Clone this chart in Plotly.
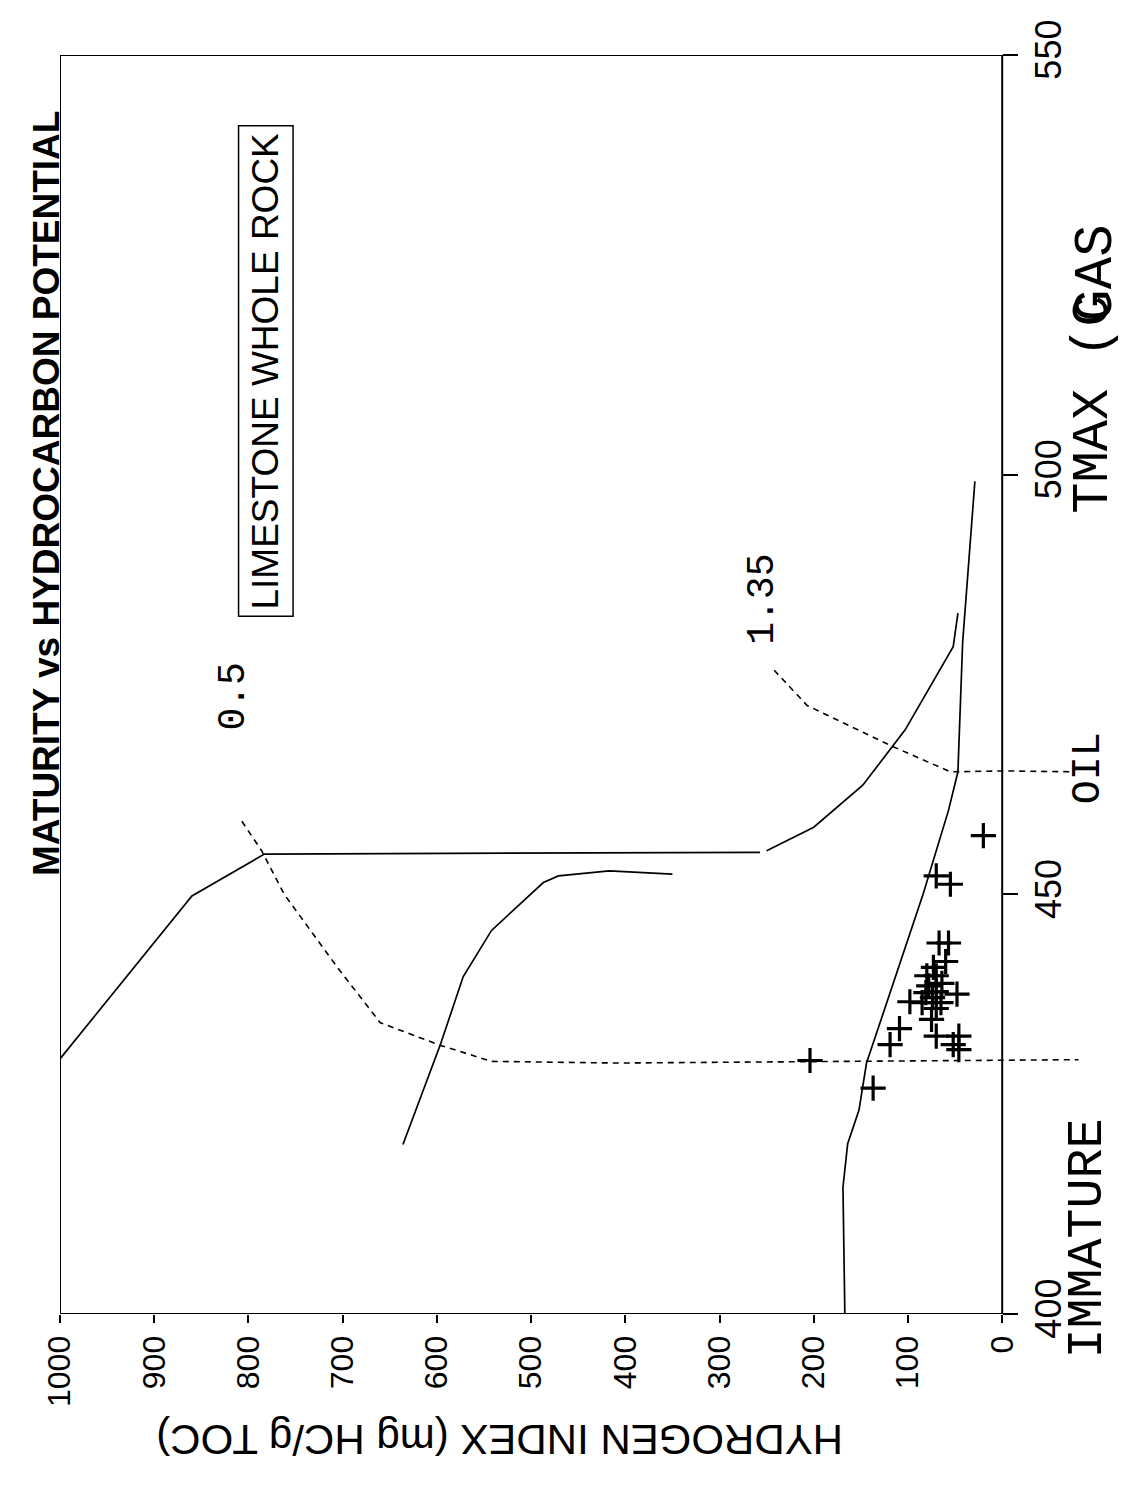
import plotly.graph_objects as go

# ---------------- data (HI in mg HC/g TOC, Tmax in deg C) ----------------
hi_ticks = [0, 100, 200, 300, 400, 500, 600, 700, 800, 900, 1000]
tmax_ticks = [400, 450, 500, 550]
hi_range = [1000, -90]
tmax_range = [400, 550]

type1_hi = [1000, 860, 783, 257]
type1_t = [430.4, 449.8, 454.8, 455.0]

type1b_hi = [250, 200, 148, 103, 52, 47]
type1b_t = [455.2, 458.0, 463.0, 469.6, 479.5, 483.5]

type2_hi = [636, 596, 572, 542, 487, 471, 417, 350]
type2_t = [420.2, 432.2, 440.2, 445.7, 451.4, 452.2, 452.8, 452.4]

type3_hi = [167, 169, 164, 152, 144, 112, 84, 57, 47, 42, 35, 29]
type3_t = [400.0, 415.1, 420.3, 424.3, 429.9, 440.7, 450.0, 460.0, 464.6, 480.0, 489.9, 499.2]

ro05_hi = [807, 786, 762, 705, 660, 596, 542, 409, -81]
ro05_t = [458.7, 455.2, 450.0, 441.2, 434.7, 432.0, 430.1, 429.9, 430.3]

ro135_hi = [242, 207, 118, 55, -3, -77]
ro135_t = [476.7, 472.5, 467.7, 464.6, 464.7, 464.6]

sample_hi = [20, 70, 55, 67, 57, 60, 73, 80, 70, 64, 78, 48, 98, 85, 74, 65,
             70, 75, 109, 119, 70, 46, 52, 46, 204, 137, 81, 70]
sample_t = [457.0, 452.2, 451.2, 444.2, 444.2, 442.0, 441.3, 440.3, 440.3, 439.4,
            439.1, 438.1, 437.2, 437.1, 437.7, 437.1, 436.4, 435.1, 434.0, 432.1,
            433.1, 433.1, 432.1, 431.5, 430.2, 426.9, 438.3, 438.4]

title_text = "MATURITY vs HYDROCARBON POTENTIAL"
box_text = "LIMESTONE WHOLE ROCK"
hi_title = "HYDROGEN INDEX (mg HC/g TOC)"

# ---------------- figure ----------------
SANS = "Liberation Sans"
MONO = "Liberation Mono"
solid = dict(color="black", width=1.7)
dashed = dict(color="black", width=1.6, dash="6px,5px")

fig = go.Figure()
for xs, ys, ln in [(type1_hi, type1_t, solid), (type1b_hi, type1b_t, solid),
                   (type2_hi, type2_t, solid), (type3_hi, type3_t, solid),
                   (ro05_hi, ro05_t, dashed), (ro135_hi, ro135_t, dashed)]:
    fig.add_trace(go.Scatter(x=xs, y=ys, mode="lines", line=ln,
                             showlegend=False, hoverinfo="skip"))

fig.add_trace(go.Scatter(x=sample_hi, y=sample_t, mode="markers",
                         marker=dict(symbol="cross-thin", size=18, color="black",
                                     line=dict(color="black", width=3.2)),
                         showlegend=False))

# frame of the HI 0..1000 / Tmax 400..550 box
fig.add_shape(type="rect", xref="x", yref="y", x0=hi_ticks[-1], x1=hi_ticks[0],
              y0=tmax_range[0], y1=tmax_range[1], line=dict(color="black", width=2),
              layer="above")

span = hi_range[0] - hi_range[1]
ypos = (hi_range[0] - hi_ticks[0]) / span


def px_of(hi):
    """paper x fraction of an HI value (lets labels sit outside the axis range)."""
    return (hi_range[0] - hi) / span


fig.update_layout(
    width=1145, height=1488,
    margin=dict(l=52, r=66, t=28, b=182),
    paper_bgcolor="white", plot_bgcolor="white",
    xaxis=dict(range=hi_range, tickvals=hi_ticks, ticktext=[str(v) for v in hi_ticks],
               tickangle=-90, ticks="outside", ticklen=8, tickwidth=1.5,
               tickcolor="black", showline=False, showgrid=False, zeroline=False,
               tickfont=dict(family=SANS, size=32, color="black")),
    yaxis=dict(range=tmax_range, tickvals=tmax_ticks, ticktext=[str(v) for v in tmax_ticks],
               side="right", anchor="free", position=ypos, ticklabeloverflow="allow",
               tickangle=-90, ticks="outside", ticklen=15, tickwidth=1.5,
               tickcolor="black", showline=False, showgrid=False, zeroline=False,
               tickfont=dict(family=SANS, size=36, color="black")),
)


def label(x, y, text, font, xref="paper", yref="y", angle=-90, **kw):
    return dict(x=x, y=y, xref=xref, yref=yref, text=text, textangle=angle,
                showarrow=False, xanchor="center", yanchor="middle", font=font, **kw)


ann = [
    label(px_of(1015), 497.8, "<b>" + title_text + "</b>",
          dict(family=SANS, size=37, color="black")),
    label(782, 512.4, box_text, dict(family=SANS, size=37, color="black"), xref="x",
          bordercolor="black", borderwidth=1.5, borderpad=6),
    label(816, 473.6, "0.5", dict(family=MONO, size=38, color="black"), xref="x"),
    label(254, 485.2, "1.35", dict(family=MONO, size=38, color="black"), xref="x"),
    label(px_of(-91), 465.0, "OIL", dict(family=MONO, size=40, color="black")),
    label(px_of(-90), 409.0, "IMMATURE", dict(family=MONO, size=50, color="black")),
    label(px_of(-96), 508.3, "TMAX (C", dict(family=MONO, size=52, color="black")),
    label(px_of(-100), 524.0, "GAS", dict(family=MONO, size=54, color="black")),
    label(px_of(533), -0.1002, hi_title, dict(family=SANS, size=42, color="black"),
          yref="paper", angle=180),
]
fig.update_layout(annotations=ann)

fig.write_html("out.html")
